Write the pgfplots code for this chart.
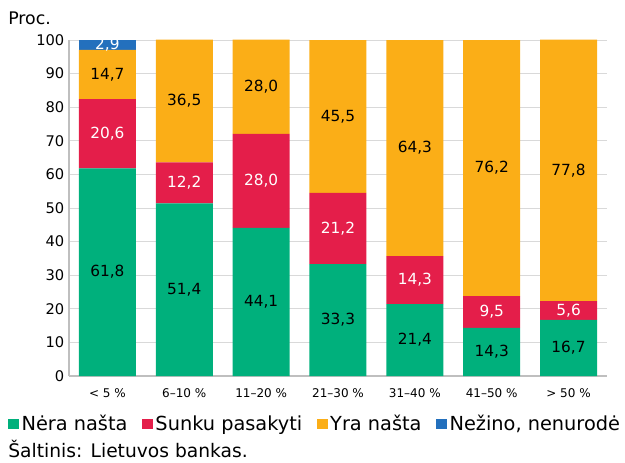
\documentclass[border=0pt]{standalone}
\usepackage{pgfplots}
\pgfplotsset{compat=1.18}
\usepackage{fontspec}
\setmainfont{DejaVu Sans}
\definecolor{cgreen}{RGB}{0,176,124}
\definecolor{cred}{RGB}{228,30,74}
\definecolor{corange}{RGB}{251,174,23}
\definecolor{cblue}{RGB}{35,112,189}
\definecolor{gridgray}{RGB}{217,217,217}
\definecolor{axisgray}{RGB}{191,191,191}
\begin{document}
\begin{tikzpicture}
\useasboundingbox (0,0) rectangle (468.75pt,346.5pt);
\begin{axis}[
  at={(51.75pt,64.5pt)}, anchor=south west,
  scale only axis, width=403.5pt, height=252.25pt,
  ybar stacked, bar width=42.75pt,
  xmin=-0.5, xmax=6.5, ymin=0, ymax=100.1,
  xtick={0,...,6},
  xticklabels={{< 5 \%},{6–10 \%},{11–20 \%},{21–30 \%},{31–40 \%},{41–50 \%},{> 50 \%}},
  ytick={0,10,...,100},
  axis x line*=bottom, axis y line*=left,
  axis line style={draw=axisgray, line width=1.1pt, -},
  ymajorgrids, grid style={draw=gridgray, line width=0.75pt},
  major tick length=0pt,
  /pgf/number format/assume math mode=true,
  yticklabel style={font=\fontsize{11}{13}\selectfont},
  xticklabel style={font=\fontsize{9}{11}\selectfont, yshift=-6pt},
  nodes near coords={\pgfplotspointmeta},
  point meta=explicit symbolic,
  every node near coord/.append style={anchor=center, font=\fontsize{11.5}{13}\selectfont},
  legend style={at={(-0.1134,-0.1429)}, anchor=west, draw=none, fill=none, inner sep=0pt,
    font=\fontsize{14.5}{16}\selectfont, /tikz/every even column/.append style={column sep=9pt}},
  legend columns=-1,
  legend image code/.code={\fill[#1] (0pt,-4pt) rectangle (8pt,4pt);},
]
\addplot[fill=cgreen, draw=none, every node near coord/.append style={text=black}] coordinates {
 (0,61.8) [61,8] (1,51.4) [51,4] (2,44.1) [44,1] (3,33.3) [33,3] (4,21.4) [21,4] (5,14.3) [14,3] (6,16.7) [16,7]};
\addplot[fill=cred, draw=none, every node near coord/.append style={text=white}] coordinates {
 (0,20.6) [20,6] (1,12.2) [12,2] (2,28.0) [28,0] (3,21.2) [21,2] (4,14.3) [14,3] (5,9.5) [9,5] (6,5.6) [5,6]};
\addplot[fill=corange, draw=none, every node near coord/.append style={text=black}] coordinates {
 (0,14.7) [14,7] (1,36.5) [36,5] (2,28.0) [28,0] (3,45.5) [45,5] (4,64.3) [64,3] (5,76.2) [76,2] (6,77.8) [77,8]};
\addplot[fill=cblue, draw=none, every node near coord/.append style={text=white}] coordinates {
 (0,2.9) [2,9] (1,0) [] (2,0) [] (3,0) [] (4,0) [] (5,0) [] (6,0) []};
\legend{Nėra našta, Sunku pasakyti, Yra našta, {Nežino, nenurodė}}
\end{axis}
\node[anchor=west, inner sep=0pt, font=\fontsize{13}{15}\selectfont] at (6pt,333pt) {Proc.};
\node[anchor=west, inner sep=0pt, font=\fontsize{14}{16}\selectfont] at (6pt,10pt) {Šaltinis:\hspace{0.45em}Lietuvos bankas.};
\end{tikzpicture}
\end{document}
